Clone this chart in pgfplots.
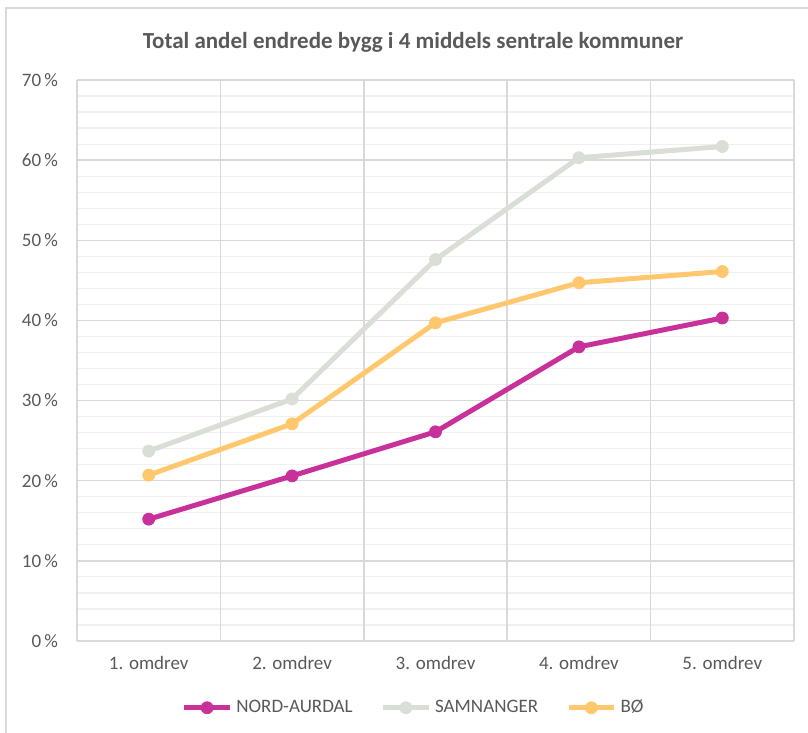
\documentclass[border=0pt]{standalone}
\usepackage{pgfplots}
\pgfplotsset{compat=1.18}
\usepackage{fontspec}
\setmainfont{Carlito}

\definecolor{txt}{HTML}{595959}
\definecolor{gridmaj}{HTML}{D9D9D9}
\definecolor{gridmin}{HTML}{F0F0F0}
\definecolor{nord}{HTML}{C8309A}
\definecolor{samn}{HTML}{D9DED7}
\definecolor{boo}{HTML}{FFC86E}

\begin{document}
\begin{tikzpicture}
\useasboundingbox (0,0) rectangle (404pt,366.5pt);
% outer frame (left and top visible)
\draw[gridmaj, line width=0.75pt] (3pt,0) -- (3pt,362.5pt) -- (404pt,362.5pt);

\node[text=txt, font=\fontsize{11.5}{13}\selectfont\bfseries] at (206.5pt,345.5pt)
  {Total andel endrede bygg i 4 middels sentrale kommuner};

\begin{axis}[
    at={(38.5pt,46pt)}, anchor=south west,
    scale only axis,
    width=358.5pt, height=280.5pt,
    xmin=0.5, xmax=5.5,
    ymin=0, ymax=70,
    axis line style={draw=none},
    major tick length=0pt, minor tick length=0pt,
    xtick={1,2,3,4,5},
    xticklabels={1. omdrev,2. omdrev,3. omdrev,4. omdrev,5. omdrev},
    ytick={0,10,20,30,40,50,60,70},
    yticklabels={0\,\%,10\,\%,20\,\%,30\,\%,40\,\%,50\,\%,60\,\%,70\,\%},
    minor y tick num=4,
    ymajorgrids, yminorgrids,
    major grid style={gridmaj, line width=0.75pt},
    minor grid style={gridmin, line width=0.6pt},
    extra x ticks={0.5,1.5,2.5,3.5,4.5,5.5},
    extra x tick labels={},
    extra x tick style={grid=major},
    ticklabel style={text=txt, font=\fontsize{9.5}{11}\selectfont},
    xticklabel style={yshift=-4pt},
    yticklabel style={xshift=-6pt},
    legend style={at={(0.471,-0.119)}, anchor=center, draw=none, fill=none,
        legend columns=-1, text=txt, font=\fontsize{9.5}{11}\selectfont,
        /tikz/every even column/.append style={column sep=12pt},
        inner sep=0pt},
    legend cell align=left,
    legend image code/.code={%
        \draw[mark repeat=2,mark phase=2,#1] plot coordinates {(0cm,0cm)(0.4cm,0cm)(0.8cm,0cm)};},
    every axis plot/.append style={line width=2.5pt, mark=*, mark size=3pt},
]

\addplot[nord, mark options={solid, fill=nord, draw=nord, line width=0.4pt}] coordinates {
    (1,15.2) (2,20.6) (3,26.1) (4,36.7) (5,40.3)
};
\addlegendentry{NORD-AURDAL}

\addplot[samn, mark options={solid, fill=samn, draw=samn, line width=0.4pt}] coordinates {
    (1,23.7) (2,30.2) (3,47.6) (4,60.3) (5,61.7)
};
\addlegendentry{SAMNANGER}

\addplot[boo, mark options={solid, fill=boo, draw=boo, line width=0.4pt}] coordinates {
    (1,20.7) (2,27.1) (3,39.7) (4,44.7) (5,46.1)
};
\addlegendentry{BØ}

\end{axis}
\end{tikzpicture}
\end{document}
